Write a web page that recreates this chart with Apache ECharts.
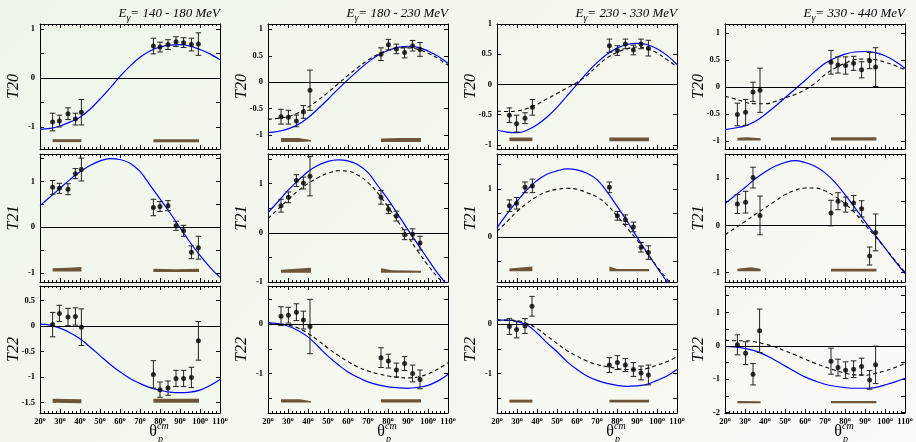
<!DOCTYPE html>
<html><head><meta charset="utf-8">
<script src="https://cdn.jsdelivr.net/npm/echarts@6/dist/echarts.min.js"></script>
<style>
html,body{margin:0;padding:0;width:916px;height:442px;overflow:hidden;
background:linear-gradient(135deg,#eef6ea 0%,#f4f8ef 55%,#f9f9f5 100%);}
#c{width:916px;height:442px;}
</style>
</head><body><div id="c"></div>
<script>
// ---------------- DATA ----------------
const energies = ['140 - 180', '180 - 230', '230 - 330', '330 - 440'];
const observables = ['T20', 'T21', 'T22'];
const xTickLabels = [20, 30, 40, 50, 60, 70, 80, 90, 100, 110];
const curveAngles = [20,25,30,35,40,45,50,55,60,65,70,75,80,85,90,95,100,105,110];

// y ranges and labels per column
const yRangeT20 = [[-1.45,1.1],[-1.26,1.1],[-1.07,1.0],[-1.15,1.17]];
const yRangeT21 = [[-1.2,1.6],[-1.0,1.6],[-0.93,1.72],[-1.2,1.51]];
const yRangeT22 = [[-1.71,0.79],[-1.8,0.77],[-1.8,0.77],[-2.01,1.79]];
const yLabelsT20 = [[-1,0,1],[-1,-0.5,0,0.5,1],[-1,-0.5,0,0.5,1],[-1,-0.5,0,0.5,1]];
const yLabelsT21 = [[-1,0,1],[-1,0,1],[0,1],[-1,0,1]];
const yLabelsT22 = [[-1.5,-1,-0.5,0,0.5],[-1,0],[-1,0],[-2,-1,0,1]];

// blue (solid) model curves
const blueT20_1 = [-1.05,-1.03,-0.98,-0.90,-0.80,-0.64,-0.43,-0.21,0.03,0.24,0.42,0.55,0.63,0.67,0.68,0.65,0.58,0.49,0.37];
const blueT21_1 = [0.47,0.66,0.85,1.04,1.21,1.35,1.45,1.50,1.48,1.40,1.22,0.92,0.62,0.31,-0.01,-0.33,-0.62,-0.88,-1.10];
const blueT22_1 = [0.04,0.02,-0.04,-0.13,-0.25,-0.41,-0.58,-0.75,-0.90,-1.03,-1.13,-1.21,-1.26,-1.30,-1.31,-1.30,-1.26,-1.17,-1.05];
const blueT20_2 = [-0.95,-0.93,-0.88,-0.80,-0.67,-0.50,-0.32,-0.13,0.05,0.22,0.38,0.51,0.60,0.66,0.68,0.66,0.59,0.49,0.36];
const blueT21_2 = [0.41,0.63,0.86,1.06,1.24,1.37,1.45,1.48,1.46,1.38,1.22,0.95,0.68,0.37,0.06,-0.24,-0.54,-0.83,-1.08];
const blueT22_2 = [0.03,0.01,-0.04,-0.13,-0.26,-0.45,-0.65,-0.82,-0.97,-1.08,-1.17,-1.23,-1.27,-1.29,-1.30,-1.28,-1.24,-1.15,-1.02];
const blueT20_3 = [-0.76,-0.79,-0.80,-0.76,-0.67,-0.54,-0.38,-0.19,0.00,0.19,0.36,0.50,0.60,0.66,0.68,0.66,0.59,0.48,0.33];
const blueT21_3 = [0.19,0.48,0.74,0.98,1.17,1.30,1.37,1.41,1.39,1.32,1.19,0.94,0.64,0.33,0.00,-0.32,-0.63,-0.92,-1.15];
const blueT22_3 = [0.08,0.08,0.05,-0.02,-0.18,-0.38,-0.56,-0.76,-0.92,-1.05,-1.14,-1.20,-1.24,-1.26,-1.25,-1.22,-1.14,-1.05,-0.92];
const blueT20_4 = [-0.79,-0.76,-0.72,-0.64,-0.51,-0.36,-0.20,-0.04,0.12,0.29,0.44,0.54,0.61,0.65,0.66,0.64,0.58,0.48,0.35];
const blueT21_4 = [0.46,0.63,0.80,0.98,1.13,1.25,1.33,1.37,1.33,1.25,1.11,0.91,0.65,0.37,0.08,-0.20,-0.48,-0.76,-1.02];
const blueT22_4 = [-0.02,-0.03,-0.08,-0.15,-0.27,-0.43,-0.60,-0.77,-0.93,-1.05,-1.15,-1.21,-1.25,-1.27,-1.27,-1.25,-1.17,-1.08,-0.97];

// dashed model curves (columns 2-4)
const dashT20_2 = [-0.70,-0.68,-0.65,-0.58,-0.47,-0.34,-0.19,-0.03,0.13,0.28,0.42,0.53,0.61,0.65,0.65,0.62,0.55,0.45,0.32];
const dashT21_2 = [0.29,0.48,0.67,0.85,1.00,1.12,1.21,1.26,1.25,1.17,1.02,0.80,0.53,0.23,-0.08,-0.38,-0.66,-0.91,-1.10];
const dashT22_2 = [0.00,0.00,-0.02,-0.08,-0.19,-0.33,-0.49,-0.63,-0.76,-0.87,-0.95,-1.01,-1.05,-1.08,-1.09,-1.07,-1.01,-0.91,-0.78];
const dashT20_3 = [-0.44,-0.45,-0.44,-0.40,-0.33,-0.24,-0.15,-0.06,0.03,0.15,0.30,0.44,0.53,0.59,0.62,0.59,0.52,0.41,0.29];
const dashT21_3 = [0.12,0.32,0.53,0.70,0.84,0.94,0.99,1.01,0.99,0.92,0.83,0.67,0.44,0.19,-0.06,-0.33,-0.61,-0.87,-1.10];
const dashT22_3 = [0.08,0.08,0.07,0.01,-0.09,-0.24,-0.39,-0.54,-0.65,-0.75,-0.82,-0.86,-0.90,-0.92,-0.92,-0.90,-0.83,-0.76,-0.66];
const dashT20_4 = [-0.17,-0.22,-0.28,-0.31,-0.31,-0.27,-0.20,-0.14,-0.05,0.07,0.23,0.35,0.44,0.51,0.52,0.51,0.46,0.40,0.32];
const dashT21_4 = [-0.20,-0.06,0.08,0.23,0.37,0.51,0.65,0.74,0.79,0.79,0.73,0.61,0.46,0.26,0.01,-0.23,-0.48,-0.74,-0.99];
const dashT22_4 = [0.17,0.15,0.15,0.12,0.05,-0.03,-0.15,-0.27,-0.40,-0.52,-0.63,-0.73,-0.82,-0.87,-0.88,-0.83,-0.75,-0.65,-0.53];

// measured points: [angle, value, error]
const ptsT20_1 = [[26.3,-0.90,0.18],[29.7,-0.88,0.12],[34,-0.73,0.12],[37.7,-0.84,0.12],[40.7,-0.70,0.26],[76.7,0.65,0.16],[80,0.63,0.10],[84,0.68,0.10],[88,0.74,0.10],[91.8,0.72,0.10],[95.7,0.68,0.13],[99.2,0.69,0.23]];
const ptsT21_1 = [[26.3,0.87,0.15],[29.7,0.85,0.11],[34,0.83,0.12],[37.7,1.17,0.11],[40.7,1.26,0.25],[76.7,0.43,0.18],[80,0.45,0.11],[84,0.47,0.11],[88,0.03,0.10],[91.8,-0.08,0.12],[95.7,-0.55,0.14],[99.2,-0.45,0.25]];
const ptsT22_1 = [[26.3,0.03,0.24],[29.7,0.25,0.16],[34,0.18,0.17],[37.7,0.19,0.17],[40.7,-0.02,0.36],[76.7,-0.95,0.27],[80,-1.25,0.15],[84,-1.22,0.14],[88,-1.03,0.16],[91.8,-1.03,0.16],[95.7,-1.01,0.20],[99.2,-0.29,0.38]];
const ptsT20_2 = [[26.5,-0.65,0.14],[30.2,-0.66,0.13],[34.2,-0.73,0.11],[37.7,-0.56,0.12],[41,-0.15,0.38],[76.5,0.53,0.12],[80.2,0.71,0.10],[84.2,0.63,0.09],[88.3,0.56,0.10],[92.3,0.69,0.10],[96,0.62,0.13]];
const ptsT21_2 = [[26.5,0.55,0.13],[30.2,0.72,0.11],[34.2,1.06,0.12],[37.7,1.01,0.12],[41,1.15,0.40],[76.5,0.72,0.14],[80.2,0.48,0.09],[84.2,0.34,0.10],[88.3,-0.04,0.10],[92.3,-0.03,0.11],[96,-0.21,0.14]];
const ptsT22_2 = [[26.5,0.16,0.19],[30.2,0.18,0.16],[34.2,0.24,0.17],[37.7,0.08,0.18],[41,-0.05,0.55],[76.5,-0.68,0.20],[80.2,-0.75,0.14],[84.2,-0.93,0.14],[88.3,-0.80,0.14],[92.3,-1.00,0.17],[96,-1.12,0.19]];
const ptsT20_3 = [[26.2,-0.51,0.12],[29.8,-0.65,0.14],[34,-0.56,0.09],[37.7,-0.38,0.13],[76.2,0.64,0.11],[80.2,0.56,0.08],[84.2,0.67,0.08],[88.2,0.57,0.08],[92,0.67,0.08],[95.7,0.60,0.13]];
const ptsT21_3 = [[26.2,0.65,0.12],[29.8,0.70,0.12],[34,1.03,0.11],[37.7,1.06,0.14],[76.2,1.03,0.11],[80.2,0.44,0.09],[84.2,0.36,0.10],[88.2,0.21,0.10],[92,-0.21,0.10],[95.7,-0.32,0.14]];
const ptsT22_3 = [[26.2,-0.05,0.16],[29.8,-0.11,0.17],[34,-0.04,0.15],[37.5,0.36,0.20],[76.2,-0.83,0.15],[80.2,-0.78,0.14],[84.2,-0.83,0.13],[88.2,-0.92,0.14],[92,-0.99,0.14],[95.7,-1.03,0.20]];
const ptsT20_4 = [[26.2,-0.51,0.21],[30.3,-0.47,0.24],[34,-0.09,0.18],[37.5,-0.06,0.41],[73,0.46,0.22],[76.5,0.41,0.15],[80.3,0.40,0.16],[84.3,0.44,0.13],[88.3,0.32,0.15],[92.3,0.49,0.15],[95.3,0.37,0.36]];
const ptsT21_4 = [[26.2,0.45,0.20],[30.3,0.49,0.23],[34,1.01,0.22],[37.5,0.21,0.41],[73,0.26,0.27],[76.5,0.51,0.18],[80.3,0.44,0.16],[84.3,0.47,0.16],[88.3,0.35,0.17],[92.3,-0.65,0.19],[95.3,-0.15,0.39]];
const ptsT22_4 = [[26.2,0.03,0.30],[30.3,-0.22,0.34],[34,-0.85,0.32],[37.3,0.45,0.65],[73,-0.46,0.39],[76.5,-0.65,0.25],[80.3,-0.73,0.25],[84.3,-0.70,0.25],[88.3,-0.62,0.25],[92.3,-1.02,0.28],[95.3,-0.57,0.56]];

// systematic error bands: list of bands, each a list of [angle, low, high]
const bandT20_1 = [[[26.3,-1.31,-1.25],[40.7,-1.31,-1.25]],[[76.7,-1.31,-1.25],[99.5,-1.31,-1.25]]];
const bandT21_1 = [[[26.3,-0.97,-0.90],[34,-0.97,-0.89],[40.7,-0.97,-0.87]],[[76.7,-0.98,-0.91],[88,-0.98,-0.92],[99.5,-0.98,-0.91]]];
const bandT22_1 = [[[26.3,-1.51,-1.43],[40.7,-1.52,-1.44]],[[76.7,-1.51,-1.43],[99.5,-1.51,-1.43]]];
const bandT20_2 = [[[26.5,-1.13,-1.05],[35,-1.13,-1.05],[41.5,-1.12,-1.09]],[[76.5,-1.13,-1.06],[86,-1.13,-1.05],[96.5,-1.13,-1.05]]];
const bandT21_2 = [[[26.5,-0.81,-0.75],[41.5,-0.81,-0.71]],[[76.5,-0.81,-0.72],[82,-0.81,-0.76],[96.5,-0.81,-0.77]]];
const bandT22_2 = [[[26.5,-1.59,-1.52],[36,-1.59,-1.52],[41.5,-1.59,-1.56]],[[76.5,-1.59,-1.52],[96.5,-1.59,-1.52]]];
const bandT20_3 = [[[26.2,-0.94,-0.88],[37.7,-0.94,-0.88]],[[76.2,-0.94,-0.88],[96,-0.94,-0.88]]];
const bandT21_3 = [[[26.2,-0.71,-0.65],[37.7,-0.71,-0.61]],[[76.2,-0.71,-0.61],[80,-0.71,-0.66],[96,-0.71,-0.66]]];
const bandT22_3 = [[[26.2,-1.59,-1.53],[37.7,-1.59,-1.53]],[[76.2,-1.59,-1.53],[96,-1.59,-1.53]]];
const bandT20_4 = [[[26.2,-0.99,-0.94],[31,-0.99,-0.93],[37.8,-0.99,-0.95]],[[73,-0.99,-0.93],[95.7,-0.99,-0.93]]];
const bandT21_4 = [[[26.2,-0.97,-0.92],[33,-0.97,-0.89],[37.8,-0.97,-0.92]],[[73,-0.98,-0.92],[95.7,-0.98,-0.92]]];
const bandT22_4 = [[[26.2,-1.72,-1.65],[37.8,-1.72,-1.66]],[[73,-1.72,-1.65],[95.7,-1.72,-1.65]]];

// ---------------- BUILD ----------------
const rowsDef = [
  {ranges:yRangeT20, labels:yLabelsT20, blue:[blueT20_1,blueT20_2,blueT20_3,blueT20_4], dash:[null,dashT20_2,dashT20_3,dashT20_4], pts:[ptsT20_1,ptsT20_2,ptsT20_3,ptsT20_4], bands:[bandT20_1,bandT20_2,bandT20_3,bandT20_4]},
  {ranges:yRangeT21, labels:yLabelsT21, blue:[blueT21_1,blueT21_2,blueT21_3,blueT21_4], dash:[null,dashT21_2,dashT21_3,dashT21_4], pts:[ptsT21_1,ptsT21_2,ptsT21_3,ptsT21_4], bands:[bandT21_1,bandT21_2,bandT21_3,bandT21_4]},
  {ranges:yRangeT22, labels:yLabelsT22, blue:[blueT22_1,blueT22_2,blueT22_3,blueT22_4], dash:[null,dashT22_2,dashT22_3,dashT22_4], pts:[ptsT22_1,ptsT22_2,ptsT22_3,ptsT22_4], bands:[bandT22_1,bandT22_2,bandT22_3,bandT22_4]}
];

const FONT = '"Liberation Serif", "DejaVu Serif", serif';
const colLeft = [40, 268, 497, 725], colWidth = 180;
const rowTop = [24, 154, 286], rowHeight = [125, 128, 127];

const grids = [], xAxes = [], yAxes = [], series = [], graphics = [];
const tickLine = {color:'#000', width:1};

for (let r = 0; r < 3; r++) {
  for (let c = 0; c < 4; c++) {
    const k = r * 4 + c;
    const def = rowsDef[r];
    const [ymin, ymax] = def.ranges[c];
    grids.push({left: colLeft[c], top: rowTop[r], width: colWidth, height: rowHeight[r]});
    const xBase = {
      gridIndex: k, type: 'value', min: 20, max: 110, interval: 10,
      axisLine: {show: true, onZero: false, lineStyle: tickLine},
      axisTick: {show: true, inside: true, length: 4, lineStyle: tickLine},
      minorTick: {show: true, splitNumber: 5, length: 2, lineStyle: tickLine},
      splitLine: {show: false}, minorSplitLine: {show: false}
    };
    xAxes.push(Object.assign({}, xBase, {
      position: 'bottom',
      axisLabel: {
        show: r === 2, margin: 3,
        formatter: v => xTickLabels.indexOf(v) >= 0 ? '{n|' + v + '}{o|o}' : '',
        rich: {
          n: {fontFamily: FONT, fontWeight: 'bold', fontSize: 8.5, color: '#000'},
          o: {fontFamily: FONT, fontWeight: 'bold', fontSize: 6, color: '#000', padding: [0, 0, 5, 0]}
        }
      }
    }));
    xAxes.push(Object.assign({}, xBase, {position: 'top', axisLabel: {show: false}}));

    const yTicks = [];
    for (let v = Math.ceil(ymin * 2) / 2; v <= ymax + 1e-9; v += 0.5) yTicks.push(+v.toFixed(2));
    const yBase = {
      gridIndex: k, type: 'value', min: ymin, max: ymax,
      axisLine: {show: true, onZero: false, lineStyle: tickLine},
      axisTick: {show: true, inside: true, length: 4, lineStyle: tickLine, customValues: yTicks},
      splitLine: {show: false}
    };
    yAxes.push(Object.assign({}, yBase, {
      position: 'left',
      axisLabel: {
        show: true, margin: 5, customValues: def.labels[c],
        formatter: v => String(v),
        fontFamily: FONT, fontWeight: 'bold', fontSize: 8.5, color: '#000'
      }
    }));
    yAxes.push(Object.assign({}, yBase, {position: 'right', axisLabel: {show: false}}));

    const xi = 2 * k, yi = 2 * k;
    const bands = def.bands[c];
    series.push({
      type: 'custom', xAxisIndex: xi, yAxisIndex: yi, silent: true, z: 2,
      data: bands.map(b => [b[0][0], b[0][1]]),
      renderItem: (params, api) => {
        const b = bands[params.dataIndex];
        const top = b.map(p => api.coord([p[0], p[2]]));
        const bot = b.slice().reverse().map(p => api.coord([p[0], p[1]]));
        return {type: 'polygon', shape: {points: top.concat(bot)}, style: {fill: '#6e5438'}};
      }
    });
    series.push({
      type: 'line', xAxisIndex: xi, yAxisIndex: yi, z: 3,
      data: curveAngles.map((a, i) => [a, def.blue[c][i]]),
      smooth: 0.4, showSymbol: false, symbol: 'none',
      lineStyle: {color: '#0000ff', width: 1.2}
    });
    if (def.dash[c]) {
      series.push({
        type: 'line', xAxisIndex: xi, yAxisIndex: yi, z: 3,
        data: curveAngles.map((a, i) => [a, def.dash[c][i]]),
        smooth: 0.4, showSymbol: false, symbol: 'none',
        lineStyle: {color: '#000', width: 1.1, type: [4, 3]}
      });
    }
    const pts = def.pts[c];
    series.push({
      type: 'custom', xAxisIndex: xi, yAxisIndex: yi, silent: true, z: 4,
      data: pts,
      renderItem: (params, api) => {
        const x = api.value(0), y = api.value(1), e = api.value(2);
        const a = api.coord([x, y + e]), b = api.coord([x, y - e]);
        const w = 2.8, st = {stroke: '#222', lineWidth: 1};
        return {type: 'group', children: [
          {type: 'line', shape: {x1: a[0], y1: a[1], x2: b[0], y2: b[1]}, style: st},
          {type: 'line', shape: {x1: a[0] - w, y1: a[1], x2: a[0] + w, y2: a[1]}, style: st},
          {type: 'line', shape: {x1: b[0] - w, y1: b[1], x2: b[0] + w, y2: b[1]}, style: st}
        ]};
      }
    });
    series.push({
      type: 'scatter', xAxisIndex: xi, yAxisIndex: yi, z: 5,
      data: pts.map(p => [p[0], p[1]]),
      symbol: 'circle', symbolSize: 5, itemStyle: {color: '#000'},
      markLine: {
        silent: true, symbol: ['none', 'none'], label: {show: false},
        lineStyle: {color: '#000', width: 1, type: 'solid'},
        data: [{yAxis: 0}]
      }
    });

    // y-axis name
    graphics.push({
      type: 'text', x: colLeft[c] - 26, y: rowTop[r] + rowHeight[r] / 2, rotation: Math.PI / 2,
      style: {text: observables[r], font: 'italic 16px ' + FONT, fill: '#000', align: 'center', verticalAlign: 'middle'}
    });
  }
}

for (let c = 0; c < 4; c++) {
  graphics.push({
    type: 'text', x: colLeft[c] + colWidth, y: 14,
    style: {
      text: '{e|E}{g|γ}{e|= ' + energies[c] + ' MeV}',
      align: 'right', verticalAlign: 'middle',
      rich: {
        e: {fontFamily: FONT, fontStyle: 'italic', fontSize: 13, fill: '#000', color: '#000'},
        g: {fontFamily: FONT, fontStyle: 'italic', fontSize: 10, fill: '#000', color: '#000', padding: [8, 0, 0, 0]}
      }
    }
  });
  const cx = colLeft[c] + colWidth / 2 + 23;
  graphics.push({type: 'text', x: cx, y: 432, style: {text: 'θ', font: '16px ' + FONT, fill: '#000', align: 'center', verticalAlign: 'middle'}});
  graphics.push({type: 'text', x: cx + 4, y: 426, style: {text: 'cm', font: 'italic 10px ' + FONT, fill: '#000', align: 'left', verticalAlign: 'middle'}});
  graphics.push({type: 'text', x: cx + 5, y: 439, style: {text: 'p', font: 'italic 10px ' + FONT, fill: '#000', align: 'left', verticalAlign: 'middle'}});
}

const chart = echarts.init(document.getElementById('c'), null, {renderer: 'canvas'});
chart.setOption({
  backgroundColor: 'transparent',
  animation: false,
  grid: grids, xAxis: xAxes, yAxis: yAxes, series: series, graphic: graphics
});
</script></body></html>
